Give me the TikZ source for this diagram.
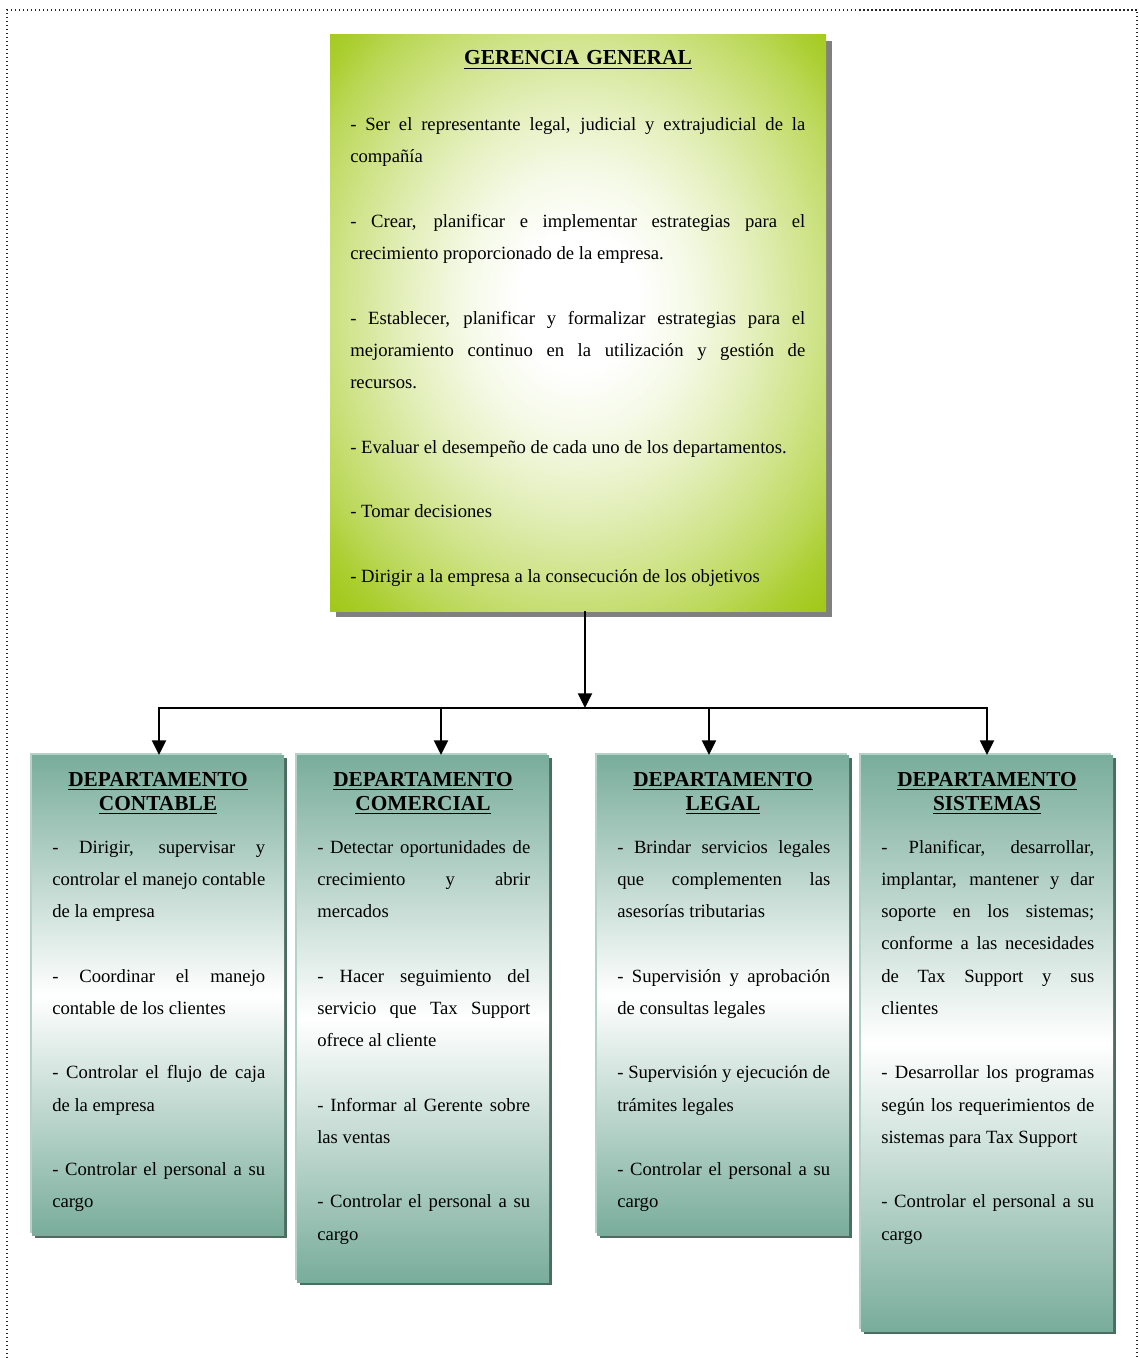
\documentclass[tikz,border=0pt]{standalone}
\usepackage{fontspec}
\setmainfont{Liberation Serif}
\usetikzlibrary{arrows.meta,shadows}
\definecolor{ggreen}{HTML}{A2C91A}
\colorlet{ggwa}{white}
\colorlet{ggwb}{white!88!ggreen}
\colorlet{ggwc}{white!70!ggreen}
\colorlet{ggwd}{white!48!ggreen}
\colorlet{ggwe}{white!28!ggreen}
\colorlet{ggwf}{white!10!ggreen}
\definecolor{ggshadowc}{HTML}{808080}
\definecolor{dteal}{HTML}{79AD9B}
\definecolor{dshadow}{HTML}{4B6C5F}
\definecolor{dhigh}{HTML}{B4D3C7}
\pgfdeclareradialshading{ggshade}{\pgfpoint{0bp}{2bp}}{color(0bp)=(ggwa); color(6bp)=(ggwa); color(12bp)=(ggwb); color(18bp)=(ggwc); color(24bp)=(ggwd); color(29bp)=(ggwe); color(32.5bp)=(ggwf); color(35.5bp)=(ggreen); color(80bp)=(ggreen)}
\newsavebox\ulbox
\newcommand\myul[1]{\leavevmode\sbox\ulbox{#1}\rlap{\rule[-3.1pt]{\wd\ulbox}{1pt}}\usebox\ulbox}
\newcommand\jl[1]{\makebox[\linewidth][s]{#1}\newline}
\newcommand\parsetup{\setlength\parskip{24.19pt}}
\begin{document}
\begin{tikzpicture}[x=0.75pt,y=-0.75pt,
  ggbox/.style={rectangle, inner sep=0pt, outer sep=0pt, anchor=north west, shade, shading=ggshade,
     general shadow={fill=ggshadowc, shadow xshift=4.5pt, shadow yshift=-4.5pt}},
  deptbox/.style={rectangle, inner sep=0pt, outer sep=0pt, anchor=north west, minimum width=189pt,
     general shadow={fill=dshadow, shadow xshift=2.25pt, shadow yshift=-2.25pt},
     general shadow={fill=dhigh, shadow xshift=-1.5pt, shadow yshift=1.5pt},
     top color=dteal, bottom color=dteal, middle color=white},
  ttext/.style={anchor=base, inner sep=0pt, align=center, text width=159.75pt, font=\fontsize{16pt}{18pt}\selectfont\bfseries},
  bodytext/.style={anchor=base west, inner sep=0pt, align=justify, font=\fontsize{14pt}{24.19pt}\selectfont},
  conn/.style={line width=1.5pt, black},
  arr/.style={conn, -{Triangle[length=11pt,width=10.5pt]}},
  pageframe/.style={line width=1.125pt, dash pattern=on 1.125pt off 1.875pt, black!85}
]
\useasboundingbox (0,0) rectangle (1138,1358);
\draw[pageframe] (7,1366) -- (7,10) -- (1137,10) -- (1137,1366);

% top box
\node[ggbox, minimum width=372pt, minimum height=432pt] (gg) at (330,35) {};
\node[ttext, text width=341.25pt] (ggtitle) at (578,65) {\myul{GERENCIA GENERAL}};
\node[bodytext, text width=341.25pt] (ggtxt) at (350,130.5) {\parsetup%
\jl{- Ser el representante legal, judicial y extrajudicial de la}compañía\par
\jl{- Crear, planificar e implementar estrategias para el}crecimiento proporcionado de la empresa.\par
\jl{- Establecer, planificar y formalizar estrategias para el}\jl{mejoramiento continuo en la utilización y gestión de}recursos.\par
- Evaluar el desempeño de cada uno de los departamentos.\par
- Tomar decisiones\par
- Dirigir a la empresa a la consecución de los objetivos};

% department boxes
\node[deptbox, minimum height=360pt] (dc) at (32,755) {};
\node[deptbox, minimum height=395.25pt] (dm) at (297,755) {};
\node[deptbox, minimum height=360pt] (dl) at (597,755) {};
\node[deptbox, minimum height=432pt] (ds) at (861,755) {};

\node[ttext] (dctitle) at (158,786) {\myul{DEPARTAMENTO}\\\myul{CONTABLE}};
\node[ttext] (dmtitle) at (423,786) {\myul{DEPARTAMENTO}\\\myul{COMERCIAL}};
\node[ttext] (dltitle) at (723,786) {\myul{DEPARTAMENTO}\\\myul{LEGAL}};
\node[ttext] (dstitle) at (987,786) {\myul{DEPARTAMENTO}\\\myul{SISTEMAS}};

\node[bodytext, text width=159.75pt] (dctxt) at (52,853) {\parsetup%
\jl{- Dirigir, supervisar y}\jl{controlar el manejo contable}de la empresa\par
\jl{- Coordinar el manejo}contable de los clientes\par
\jl{- Controlar el flujo de caja}de la empresa\par
\jl{- Controlar el personal a su}cargo};

\node[bodytext, text width=159.75pt] (dmtxt) at (317,853) {\parsetup%
\jl{- Detectar oportunidades de}\jl{crecimiento y abrir}mercados\par
\jl{- Hacer seguimiento del}\jl{servicio que Tax Support}ofrece al cliente\par
\jl{- Informar al Gerente sobre}las ventas\par
\jl{- Controlar el personal a su}cargo};

\node[bodytext, text width=159.75pt] (dltxt) at (617,853) {\parsetup%
\jl{- Brindar servicios legales}\jl{que complementen las}asesorías tributarias\par
\jl{- Supervisión y aprobación}de consultas legales\par
\jl{- Supervisión y ejecución de}trámites legales\par
\jl{- Controlar el personal a su}cargo};

\node[bodytext, text width=159.75pt] (dstxt) at (881,853) {\parsetup%
\jl{- Planificar, desarrollar,}\jl{implantar, mantener y dar}\jl{soporte en los sistemas;}\jl{conforme a las necesidades}\jl{de Tax Support y sus}clientes\par
\jl{- Desarrollar los programas}\jl{según los requerimientos de}sistemas para Tax Support\par
\jl{- Controlar el personal a su}cargo};

% connectors
\coordinate (j) at (585,708);
\coordinate (b1) at (159,708);
\coordinate (b2) at (441,708);
\coordinate (b3) at (709,708);
\coordinate (b4) at (987,708);
\draw[arr] (gg.south -| j) -- (j);
\draw[arr] (j) -| (b1 |- dc.north);
\draw[arr] (j) -| (b4 |- ds.north);
\draw[arr] (b2) -- (b2 |- dm.north);
\draw[arr] (b3) -- (b3 |- dl.north);
\end{tikzpicture}
\end{document}
